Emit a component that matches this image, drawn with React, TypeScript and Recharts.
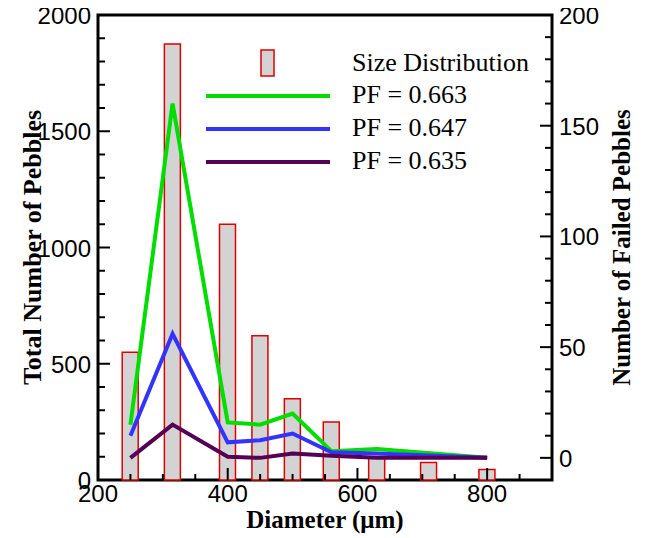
import { Bar, ComposedChart, Legend, Line, ReferenceArea, XAxis, YAxis } from 'recharts'

// diameter classes (µm)
const diameters = [250, 315, 400, 450, 500, 560, 630, 710, 800]
// total number of pebbles per class (left axis)
const sizeDistribution = [550, 1875, 1100, 620, 350, 250, 100, 75, 45]
// failed pebbles (right axis), no value at 710
const failed663 = [15, 160, 16, 15, 20, 3, 4, null, 0]
const failed647 = [10, 56, 7, 8, 11, 2.5, 2, null, 0]
const failed635 = [0, 15, 0.5, 0, 2, 1, 0, null, 0]

const xLabels = [200, 400, 600, 800]
const leftLabels = [0, 500, 1000, 1500, 2000]
const rightLabels = [0, 50, 100, 150, 200]

// minor tick positions
const xTicks = Array.from({ length: 15 }, (_, i) => 200 + i * 50)
const leftTicks = Array.from({ length: 21 }, (_, i) => i * 100)
const rightTicks = Array.from({ length: 22 }, (_, i) => -10 + i * 10)

const data = diameters.map((d, i) => ({
  d,
  size: sizeDistribution[i],
  pf663: failed663[i],
  pf647: failed647[i],
  pf635: failed635[i],
}))

const legendRows = [
  { name: 'PF = 0.663', color: '#00dd00' },
  { name: 'PF = 0.647', color: '#3333ff' },
  { name: 'PF = 0.635', color: '#550055' },
]

const sans = '"Liberation Sans", Arial, Helvetica, sans-serif'
const serif = '"Liberation Serif", "Times New Roman", serif'

const XTick = (props: any) => {
  const { x, y, payload } = props
  const v = payload.value
  const len = v % 200 === 0 ? 12 : 6
  return (
    <g>
      <line x1={x} x2={x} y1={y} y2={y - len} stroke="#000" strokeWidth={2} />
      {xLabels.includes(v) && (
        <text x={x} y={y + 22} textAnchor="middle" fontFamily={sans} fontSize={24} fill="#000">
          {v}
        </text>
      )}
    </g>
  )
}

const LeftTick = (props: any) => {
  const { x, y, payload } = props
  const v = payload.value
  const len = v % 500 === 0 ? 12 : 7
  return (
    <g>
      <line x1={x} x2={x + len} y1={y} y2={y} stroke="#000" strokeWidth={2} />
      {leftLabels.includes(v) && (
        <text x={x - 7} y={y + 9} textAnchor="end" fontFamily={sans} fontSize={24} fill="#000">
          {v}
        </text>
      )}
    </g>
  )
}

const RightTick = (props: any) => {
  const { x, y, payload } = props
  const v = payload.value
  const len = v % 50 === 0 ? 12 : 7
  return (
    <g>
      <line x1={x} x2={x - len} y1={y} y2={y} stroke="#000" strokeWidth={2} />
      {rightLabels.includes(v) && (
        <text x={x + 7} y={y + 9} textAnchor="start" fontFamily={sans} fontSize={24} fill="#000">
          {v}
        </text>
      )}
    </g>
  )
}

const renderLegend = () => (
  <svg width={360} height={140} style={{ display: 'block' }}>
    <rect x={63} y={10} width={13} height={26} fill="#d3d3d3" stroke="#e00000" strokeWidth={1.5} />
    <text x={154} y={31} fontFamily={serif} fontSize={26} fill="#000">
      Size Distribution
    </text>
    {legendRows.map((r, i) => (
      <g key={r.name}>
        <line x1={8} x2={132} y1={56 + i * 33} y2={56 + i * 33} stroke={r.color} strokeWidth={4} />
        <text x={154} y={63 + i * 33} fontFamily={serif} fontSize={26} fill="#000">
          {r.name}
        </text>
      </g>
    ))}
  </svg>
)

export default function App() {
  return (
    <ComposedChart width={644} height={530} data={data} margin={{ top: 7, right: 0, bottom: 8, left: 0 }}>
      <XAxis
        dataKey="d"
        type="number"
        domain={[200, 900]}
        ticks={xTicks}
        interval={0}
        tickSize={0}
        tickMargin={0}
        axisLine={false}
        tickLine={false}
        tick={XTick}
        height={50}
        label={({ viewBox }: any) => (
          <text
            x={viewBox.x + viewBox.width / 2}
            y={viewBox.y + 48}
            textAnchor="middle"
            fontFamily={serif}
            fontWeight="bold"
            fontSize={25}
            fill="#000"
          >
            Diameter (μm)
          </text>
        )}
      />
      <YAxis
        yAxisId="left"
        orientation="left"
        domain={[0, 2000]}
        ticks={leftTicks}
        interval={0}
        tickSize={0}
        tickMargin={0}
        axisLine={false}
        tickLine={false}
        tick={LeftTick}
        width={90}
        label={({ viewBox }: any) => {
          const cx = viewBox.x + viewBox.width - 57
          const cy = viewBox.y + viewBox.height / 2
          return (
            <text
              x={cx}
              y={cy}
              transform={`rotate(-90 ${cx} ${cy})`}
              textAnchor="middle"
              fontFamily={serif}
              fontWeight="bold"
              fontSize={26}
              fill="#000"
            >
              Total Number of Pebbles
            </text>
          )
        }}
      />
      <YAxis
        yAxisId="right"
        orientation="right"
        domain={[-10, 200]}
        ticks={rightTicks}
        interval={0}
        tickSize={0}
        tickMargin={0}
        axisLine={false}
        tickLine={false}
        tick={RightTick}
        width={100}
        label={({ viewBox }: any) => {
          const cx = viewBox.x + 78
          const cy = viewBox.y + viewBox.height / 2
          return (
            <text
              x={cx}
              y={cy}
              transform={`rotate(-90 ${cx} ${cy})`}
              textAnchor="middle"
              fontFamily={serif}
              fontWeight="bold"
              fontSize={25}
              fill="#000"
            >
              Number of Failed Pebbles
            </text>
          )
        }}
      />
      <Bar
        yAxisId="left"
        dataKey="size"
        name="Size Distribution"
        barSize={16}
        fill="#d3d3d3"
        stroke="#e00000"
        strokeWidth={1.5}
        isAnimationActive={false}
      />
      <Line yAxisId="right" type="linear" dataKey="pf663" stroke="#00dd00" strokeWidth={4} dot={false} connectNulls isAnimationActive={false} />
      <Line yAxisId="right" type="linear" dataKey="pf647" stroke="#3333ff" strokeWidth={4} dot={false} connectNulls isAnimationActive={false} />
      <Line yAxisId="right" type="linear" dataKey="pf635" stroke="#550055" strokeWidth={4} dot={false} connectNulls isAnimationActive={false} />
      <ReferenceArea
        yAxisId="left"
        x1={200}
        x2={900}
        y1={0}
        y2={2000}
        fill="none"
        fillOpacity={0}
        stroke="#000"
        strokeWidth={3}
        ifOverflow="visible"
      />
      <Legend
        layout="horizontal"
        verticalAlign="middle"
        align="center"
        content={renderLegend}
        wrapperStyle={{ position: 'absolute', left: 190, top: 32, width: 360, height: 140 }}
      />
    </ComposedChart>
  )
}
